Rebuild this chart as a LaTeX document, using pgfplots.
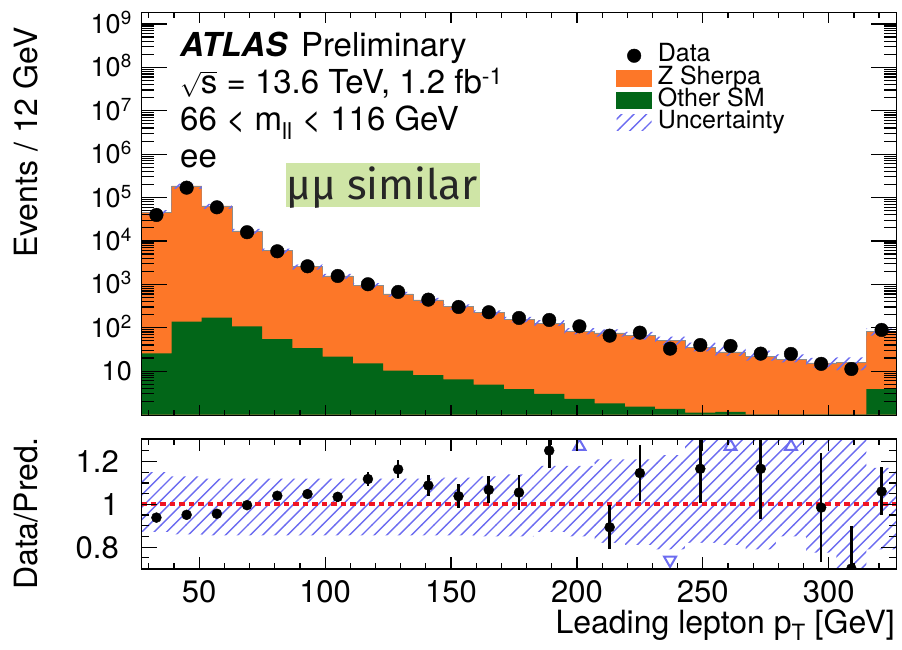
\documentclass[border=0pt]{standalone}
\usepackage{fontspec}
\setmainfont{TeX Gyre Heros}
\newfontfamily\fira{Fira Sans}
\usepackage{pgfplots}
\pgfplotsset{compat=1.18}
\usepackage{pgfplotstable}
\usetikzlibrary{patterns}

\definecolor{zorange}{RGB}{253,119,40}
\definecolor{smgreen}{RGB}{2,102,24}
\definecolor{hatchblue}{RGB}{108,108,240}
\definecolor{notegreen}{RGB}{207,229,166}
\definecolor{ratiored}{RGB}{240,20,35}

% wide 45 degree hatching for the uncertainty band
\pgfdeclarepatternformonly{widehatch}{\pgfqpoint{-1pt}{-1pt}}{\pgfqpoint{13.4pt}{13.4pt}}{\pgfqpoint{12.4pt}{12.4pt}}{%
  \pgfsetlinewidth{1.4pt}%
  \pgfpathmoveto{\pgfqpoint{-0.2pt}{-0.2pt}}%
  \pgfpathlineto{\pgfqpoint{12.6pt}{12.6pt}}%
  \pgfusepath{stroke}}
\tikzset{hatch/.style={pattern=widehatch, pattern color=hatchblue}}

% stacked prediction per 12 GeV bin (left edges), with relative uncertainty (up/down)
\pgfplotstableread{
lo   tot     oth    up     dn
27   44900   25.8   0.15   0.13
39   185000  138    0.13   0.14
51   64000   171    0.12   0.145
63   17000   108    0.12   0.145
75   5980    55     0.12   0.145
87   2560    33.7   0.12   0.145
99   1560    21.6   0.12   0.145
111  953     15.2   0.12   0.145
123  601     10.3   0.12   0.145
135  437     8.06   0.12   0.145
147  306     6.5    0.125  0.145
159  223     4.9    0.13   0.15
171  157     3.83   0.14   0.15
183  127     2.98   0.18   0.13
195  83      2.29   0.18   0.15
207  76      1.82   0.21   0.18
219  66      1.52   0.21   0.19
231  50.5    1.35   0.23   0.21
243  35      1.10   0.30   0.18
255  27.7    1.15   0.35   0.19
267  22      0.01   0.35   0.21
279  18.8    0.01   0.30   0.15
291  15.5    0.01   0.30   0.225
303  16      0.01   0.30   0.35
315  83      3.83   0.17   0.21
327  83      3.83   0.17   0.21
}\histtab

% observed events
\pgfplotstableread{
x    y
33   39700
45   169000
57   59700
69   15900
81   5780
93   2610
105  1560
117  1005
129  668
141  444
153  301
165  228
177  168
189  151
201  108
213  65.8
225  77
237  33
249  40
261  38
273  25.3
285  24.9
297  14.7
309  11.2
321  89
}\datatab

% data / prediction
\pgfplotstableread{
x    r      e
33   0.938  0.004
45   0.951  0.003
57   0.956  0.004
69   0.996  0.008
81   1.040  0.012
93   1.048  0.018
105  1.035  0.024
117  1.118  0.031
129  1.163  0.042
141  1.088  0.051
153  1.038  0.055
165  1.068  0.062
177  1.055  0.080
189  1.251  0.080
213  0.893  0.103
225  1.146  0.130
249  1.166  0.162
273  1.166  0.234
297  0.985  0.255
309  0.700  0.200
321  1.060  0.112
}\ratiotab

\begin{document}
\begin{tikzpicture}
\useasboundingbox (0,0) rectangle (902pt,649pt);

% ---------------- upper panel ----------------
\begin{axis}[
  at={(141.3pt,233.3pt)}, anchor=south west,
  scale only axis, width=755.4pt, height=403pt,
  xmin=27, xmax=327, ymode=log, ymin=0.94, ymax=1.82e9,
  axis on top,
  axis line style={line width=1.5pt},
  tick align=inside, xtick pos=both, ytick pos=both,
  xtick=\empty,
  ytick={10,100,1000,1e4,1e5,1e6,1e7,1e8,1e9},
  yticklabels={10,10\textsuperscript{2},10\textsuperscript{3},10\textsuperscript{4},10\textsuperscript{5},10\textsuperscript{6},10\textsuperscript{7},10\textsuperscript{8},10\textsuperscript{9}},
  minor ytick={2,3,4,5,6,7,8,9,20,30,40,50,60,70,80,90,200,300,400,500,600,700,800,900,
    2e3,3e3,4e3,5e3,6e3,7e3,8e3,9e3,2e4,3e4,4e4,5e4,6e4,7e4,8e4,9e4,
    2e5,3e5,4e5,5e5,6e5,7e5,8e5,9e5,2e6,3e6,4e6,5e6,6e6,7e6,8e6,9e6,
    2e7,3e7,4e7,5e7,6e7,7e7,8e7,9e7,2e8,3e8,4e8,5e8,6e8,7e8,8e8,9e8},
  major tick length=26pt, minor tick length=13pt,
  tick style={line width=1.2pt, black},
  yticklabel style={font=\fontsize{27}{27}\selectfont, anchor=base east, yshift=-9.6pt, xshift=-6pt},
  legend style={at={(0.629,0.919)}, anchor=north west, draw=none, fill=none,
    inner sep=0pt, outer sep=0pt, font=\fontsize{25}{25}\selectfont,
    row sep=1.5pt, nodes={inner sep=0pt, text height=16.5pt, text depth=4.3pt},
    /tikz/every odd column/.append style={column sep=6pt}},
  legend cell align=left,
]
% Z Sherpa stacked on top of the other SM processes
\addplot[const plot, fill=zorange, draw=black!45, line width=0.5pt, forget plot] table[x=lo,y=tot]{\histtab} \closedcycle;
% uncertainty band: hatch up to the upper edge, then repaint below the lower edge
\addplot[const plot, hatch, draw=none, forget plot] table[x=lo, y expr=\thisrow{tot}*(1+\thisrow{up})]{\histtab} \closedcycle;
\addplot[const plot, fill=zorange, draw=none, forget plot] table[x=lo, y expr=\thisrow{tot}*(1-\thisrow{dn})]{\histtab} \closedcycle;
\addplot[const plot, fill=smgreen, draw=none, forget plot] table[x=lo,y=oth]{\histtab} \closedcycle;
\addplot[only marks, mark=*, mark size=6.8pt, black, forget plot] table[x=x,y=y]{\datatab};

\addlegendimage{legend image code/.code={\fill[black] (17.5pt,0pt) circle (6.8pt);}}
\addlegendentry{Data}
\addlegendimage{legend image code/.code={\fill[zorange] (0pt,-8.3pt) rectangle (35pt,8.3pt);}}
\addlegendentry{Z Sherpa}
\addlegendimage{legend image code/.code={\fill[smgreen] (0pt,-8.3pt) rectangle (35pt,8.3pt);}}
\addlegendentry{Other SM}
\addlegendimage{legend image code/.code={\path[pattern=widehatch, pattern color=hatchblue, draw=none] (0pt,-8.3pt) rectangle (35pt,8.3pt);}}
\addlegendentry{Uncertainty}
\end{axis}

% x ticks of the upper panel
\begin{axis}[
  at={(141.3pt,233.3pt)}, anchor=south west,
  scale only axis, width=755.4pt, height=403pt,
  xmin=27, xmax=327, ymin=0, ymax=1,
  axis line style={line width=1.5pt},
  tick align=inside, xtick pos=both,
  ytick=\empty,
  xtick={50,100,...,300}, xticklabels={},
  minor xtick={30,40,...,320},
  major tick length=10.7pt, minor tick length=5.7pt,
  tick style={line width=1.2pt, black},
]
\addplot[draw=none] coordinates {(27,0) (327,1)};
\end{axis}

% ---------------- ratio panel ----------------
\begin{axis}[
  at={(141.3pt,80pt)}, anchor=south west,
  scale only axis, width=755.4pt, height=130pt,
  xmin=27, xmax=327, ymin=0.698, ymax=1.305,
  axis on top, clip marker paths=true,
  axis line style={line width=1.5pt},
  tick align=inside, xtick pos=both, ytick pos=both,
  xtick=\empty,
  ytick={0.8,1,1.2}, yticklabels={0.8,1,1.2},
  minor ytick={0.75,0.85,0.9,0.95,1.05,1.1,1.15,1.25},
  major tick length=16pt, minor tick length=8pt,
  tick style={line width=1.2pt, black},
  yticklabel style={font=\fontsize{31}{31}\selectfont, anchor=base east, yshift=-11pt, xshift=-19pt},
]
% relative uncertainty of the prediction
\addplot[const plot, hatch, draw=none] table[x=lo, y expr=1+\thisrow{up}]{\histtab} \closedcycle;
\addplot[const plot, fill=white, draw=none] table[x=lo, y expr=1-\thisrow{dn}]{\histtab} \closedcycle;
\addplot[ratiored, line width=4pt, dash pattern=on 5.5pt off 4pt] coordinates {(27,1) (327,1)};
\addplot[only marks, mark=*, mark size=5pt, black,
  error bars/.cd, y dir=both, y explicit, error mark=none,
  error bar style={line width=2.6pt, black}]
  table[x=x, y=r, y error=e]{\ratiotab};
% points outside the displayed range
\addplot[only marks, mark=triangle, mark size=7pt, hatchblue, mark options={line width=2pt}]
  coordinates {(201,1.27) (261,1.27) (285,1.27)};
\addplot[only marks, mark=triangle, mark size=7pt, hatchblue, mark options={line width=2pt, rotate=180}]
  coordinates {(237,0.74)};
\end{axis}

% x ticks and labels of the ratio panel
\begin{axis}[
  at={(141.3pt,80pt)}, anchor=south west,
  scale only axis, width=755.4pt, height=130pt,
  xmin=27, xmax=327, ymin=0, ymax=1,
  axis line style={line width=1.5pt},
  tick align=inside, xtick pos=both,
  ytick=\empty,
  xtick={50,100,...,300}, xticklabels={50,100,150,200,250,300},
  minor xtick={30,40,...,320},
  major tick length=12.3pt, minor tick length=5.7pt,
  tick style={line width=1.2pt, black},
  xticklabel style={font=\fontsize{31}{31}\selectfont, anchor=base, yshift=-33pt},
]
\addplot[draw=none] coordinates {(27,0) (327,1)};
\end{axis}

% titles and annotations
\node[rotate=90, anchor=base west, font=\fontsize{32}{32}\selectfont, inner sep=0pt] at (37pt,391pt) {Events / 12 GeV};
\node[rotate=90, anchor=base west, font=\fontsize{32}{32}\selectfont, inner sep=0pt] at (37pt,59pt) {Data/Pred.};
\node[anchor=base east, font=\fontsize{32}{32}\selectfont, inner sep=0pt] at (895pt,16pt) {Leading lepton p\textsubscript{T} [GeV]};

\begin{scope}[every node/.style={anchor=base west, font=\fontsize{33}{33}\selectfont, inner sep=0pt}]
\node at (180pt,592pt) {\textbf{\textit{ATLAS}}\hspace{0.4em}Preliminary};
\node at (180pt,555pt) {$\sqrt{\hbox{s}}$ = 13.6 TeV, 1.2 fb\textsuperscript{-1}};
\node at (180pt,518pt) {66 < m\textsubscript{ll} < 116 GeV};
\node at (180pt,481pt) {ee};
\end{scope}

\fill[notegreen] (286pt,442.3pt) rectangle (480pt,486pt);
\node[anchor=base, font=\fira\fontsize{42}{42}\selectfont, text=black!85, inner sep=0pt] at (382pt,449.7pt) {μμ similar};
\end{tikzpicture}
\end{document}
